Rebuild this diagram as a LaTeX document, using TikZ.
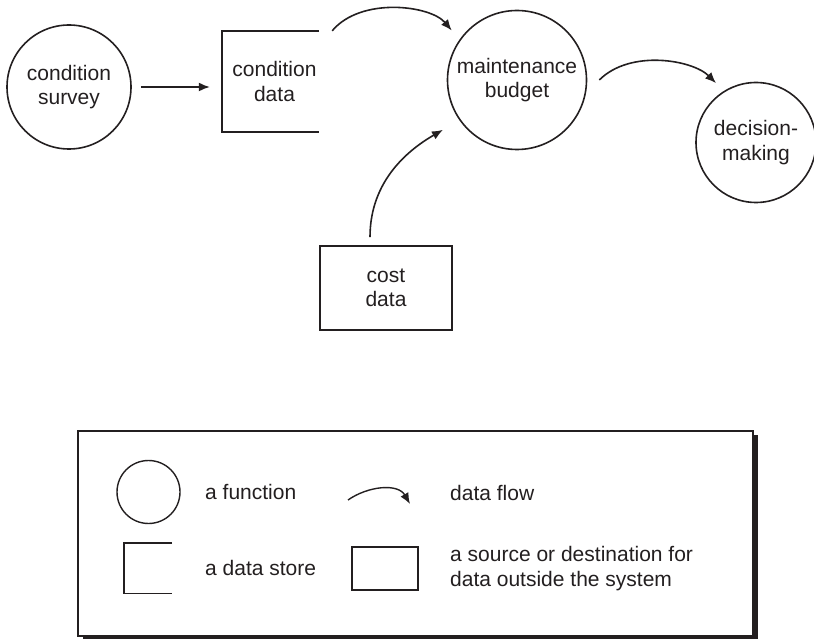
\documentclass[tikz,border=0pt]{standalone}
\usepackage{fontspec}
\setmainfont{Liberation Sans}
\usepackage{tikz}
\usetikzlibrary{arrows.meta,positioning,shapes,shadows}
\definecolor{inkgray}{RGB}{35,31,32}

\tikzset{
  func/.style={circle, draw=inkgray, line width=1.6pt, align=center, inner sep=0pt},
  storenode/.style={rectangle, align=center, inner sep=0pt},
  storeline/.style={draw=inkgray, line width=1.8pt},
  extbox/.style={rectangle, draw=inkgray, line width=1.8pt, align=center, inner sep=0pt},
  flow/.style={draw=inkgray, line width=1.6pt, -{Latex[length=11pt,width=9pt]}},
  keytext/.style={anchor=west, align=left, inner sep=0pt},
  legendframe/.style={rectangle, draw=inkgray, line width=1.3pt, fill=white,
    drop shadow={shadow xshift=5pt, shadow yshift=-4pt, opacity=1, fill=inkgray}}
}

\begin{document}
\begin{tikzpicture}[x=1pt, y=1pt, font=\fontsize{21}{24.5}\selectfont, color=inkgray]
\useasboundingbox (0,0) rectangle (814,638);

% the data flow diagram
\node[func, minimum size=124pt] (survey) at (69,551) {condition\\survey};
\node[storenode, minimum width=97pt, minimum height=101pt] (store) at (270.5,556.5) {\hspace*{8pt}condition\\\hspace*{8pt}data};
\node[func, minimum size=139pt] (budget) at (517,558) {maintenance\\budget};
\node[func, minimum size=120pt] (decision) at (756,495.5) {decision-\\making};
\node[extbox, minimum width=132pt, minimum height=84pt] (cost) at (386,350) {cost\\data};

\draw[storeline] (store.north east) -- (store.north west) -- (store.south west) -- (store.south east);

\draw[flow] ([xshift=9pt]survey.east) -- ([xshift=-12pt]store.west |- survey.east);
\draw[flow, shorten >=12pt] ([xshift=13pt]store.north east) to[out=50, in=130, looseness=0.9] (budget.145);
\draw[flow, shorten >=11pt] ([xshift=12pt]budget.east) to[out=45, in=135, looseness=0.9] (decision.122);
\draw[flow, shorten >=19pt] ([xshift=-16pt, yshift=8pt]cost.north) to[out=90, in=210] (budget.215);

% legend
\node[legendframe, minimum width=675pt, minimum height=205pt] (legend) at (415.5,104.5) {};

\node[func, line width=1.4pt, minimum size=63pt] (keyfunc) at (148.5,146) {};
\node[keytext] (keyfunctext) at (205,146) {a function};

\node[storenode, minimum width=48pt, minimum height=50pt] (keystore) at (148,70) {};
\draw[storeline, line width=1.4pt] (keystore.north east) -- (keystore.north west) -- (keystore.south west) -- (keystore.south east);
\node[keytext] (keystoretext) at (205,70) {a data store};

\coordinate (keyflowstart) at (348,138);
\coordinate (keyflowend) at (410,134);
\draw[flow, line width=1.4pt] (keyflowstart) to[out=35, in=120] (keyflowend);
\node[keytext] (keyflowtext) at (450,145) {data flow};

\node[extbox, line width=1.4pt, minimum width=66pt, minimum height=43pt] (keyext) at (385,69.5) {};
\node[keytext] (keyexttext) at (450,69.5) {a source or destination for\\data outside the system};
\end{tikzpicture}
\end{document}
